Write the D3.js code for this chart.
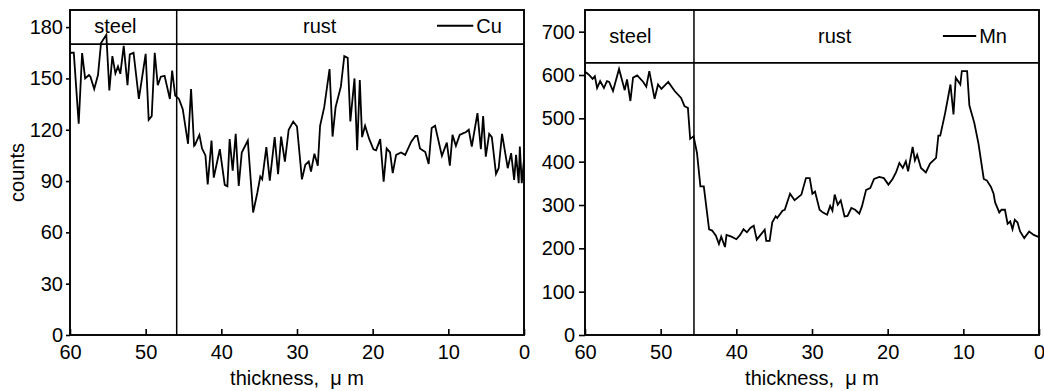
<!DOCTYPE html>
<html>
<head>
<meta charset="utf-8">
<script src="https://cdn.jsdelivr.net/npm/d3@7/dist/d3.min.js"></script>
<style>
  body { margin: 0; background: #fff; }
  svg text { font-family: "Liberation Sans", Arial, sans-serif; fill: #000; }
</style>
</head>
<body>
<svg id="chart" width="1044" height="391"></svg>
<script>
// Depth profiles across the steel / rust interface.
// Each entry is [thickness (µm), counts].
const cuProfile = [
  [60,165],[59.5,165],[58.85,123.5],[58.4,164.8],[58.0,150],[57.5,152],[57.3,151],[56.8,143.8],
  [56.3,152],[55.9,170.7],[55.2,175.5],[54.8,143],[54.4,163],[54.0,153],[53.66,157],[53.35,152.7],
  [52.9,169],[52.4,146],[52.1,164],[51.6,165],[50.9,138],[50.0,164.4],[49.6,125.8],[49.2,128],
  [48.8,165],[48.4,146],[48.0,151],[47.5,151.5],[46.8,138],[46.5,154.6],[46.1,140],[45.6,138],
  [45.1,132],[44.4,111.8],[44.0,143.8],[43.6,110.6],[43.5,111],[42.9,117],[42.55,109],[42.1,105],
  [41.8,88],[41.3,113.7],[41.0,92],[40.2,108.6],[39.55,87.8],[39.2,87],[38.9,114.5],[38.5,96],
  [38.1,117.6],[37.7,87.2],[37.3,106.7],[36.5,113.7],[35.8,71.6],[35.25,83],[34.85,92.6],[34.6,91],
  [34.05,109.8],[33.6,90.3],[32.95,115.7],[32.5,94],[32.1,116],[31.6,101.4],[31.1,120],[30.5,124.8],
  [30.0,121.9],[29.35,91],[28.9,99.5],[28.45,101.4],[28.15,95.6],[27.7,106],[27.25,99],[26.95,122.3],
  [26.4,133.2],[25.7,155.5],[25.3,116],[24.9,133.2],[24.2,145.3],[23.75,163],[23.3,162],[22.95,124.8],
  [22.4,150],[22.05,108],[21.7,149],[21.4,115.7],[21.0,122.3],[20.45,114.5],[19.9,108.6],[19.55,108],
  [19.0,114.5],[18.55,89.7],[18.15,109],[17.7,106.7],[17.35,94.6],[16.9,105.3],[16.25,106.7],[15.7,105.3],
  [14.9,113],[14.35,116.4],[14.1,116.4],[13.75,109],[13.05,107],[12.6,100],[12.2,121],[11.75,122.3],
  [10.85,104.7],[10.2,112.5],[9.8,99],[9.45,117],[9.0,110.6],[8.5,117],[8.0,118],[7.7,118.5],
  [7.3,120],[6.9,110.2],[6.15,129.7],[5.7,108.6],[5.4,128],[5.05,104.3],[4.6,117.6],[4.25,115.7],
  [3.7,94.2],[3.35,97.5],[2.9,117.6],[2.15,97.5],[1.7,106.3],[1.3,90.7],[1.05,105.3],[0.7,88.8],
  [0.55,110.2],[0.3,88.8],[0,102.4]
];

const mnProfile = [
  [60,607],[59.8,605],[59.4,599],[59.0,591],[58.7,597],[58.4,570],[58.0,586],[57.5,570],
  [57.1,586],[56.8,584],[56.3,563],[55.5,614],[54.75,565],[54.45,590],[54.0,540],[53.65,594],
  [53.1,599],[52.3,584],[51.9,573],[51.5,609],[50.8,545],[50.35,578],[49.9,568],[49.0,584],
  [48.15,563],[47.3,547],[46.85,528],[46.4,524],[46.1,452.6],[45.65,458.6],[45.2,420],[44.75,343],
  [44.3,343],[43.6,244],[43.2,241],[42.7,229],[42.3,210],[42.0,227],[41.5,203],[41.3,231],
  [40.65,227],[40.0,221],[39.5,231],[39.05,244],[38.6,237],[38.15,247],[37.7,252],[37.3,220],
  [36.8,231],[36.25,243],[36.05,217],[35.6,217],[35.25,260],[34.8,274],[34.6,270],[33.9,287],
  [33.6,289],[32.9,326],[32.3,311],[31.4,324],[30.8,362],[30.3,362],[29.95,326],[29.6,331],
  [29.0,289],[28.6,283],[28.0,277.5],[27.6,298],[27.3,287],[27.0,324],[26.6,300.6],[26.2,310.6],
  [25.7,273.6],[25.3,275],[24.8,293],[24.3,289],[23.75,280],[23.4,296.7],[22.85,335],[22.3,339],
  [21.8,360],[21.1,364.7],[20.5,362],[19.9,347],[19.35,360],[18.9,375],[18.45,397],[18.0,385.5],
  [17.6,400.8],[17.3,377.7],[16.7,434],[16.4,403],[16.1,416],[15.6,385.5],[14.95,375],[14.4,395.5],
  [13.6,408.6],[13.3,460],[13.05,460],[12.4,512.7],[11.7,578],[11.3,508.8],[11.0,593.7],[10.4,578],
  [10.2,609],[9.5,609],[9.2,529.6],[8.55,489.6],[8.0,441.7],[7.3,360],[6.9,356.8],[6.35,341.6],
  [6.0,326],[5.8,306],[5.25,282.8],[4.95,289],[4.5,289],[4.15,256.7],[3.8,262],[3.5,244],
  [3.2,266],[2.85,260],[2.5,239],[1.95,223.6],[1.3,239],[0.7,231],[0,226]
];

const thicknessTicks = [60, 50, 40, 30, 20, 10, 0];
const cuTicks = [0, 30, 60, 90, 120, 150, 180];
const mnTicks = [0, 100, 200, 300, 400, 500, 600, 700];
const regionNames = ["steel", "rust"];
const xTitle = "thickness,\u00a0\u00a0\u03bc\u00a0m";
const yTitle = "counts";

const svg = d3.select("#chart");

function drawPanel(p) {
  const x = d3.scaleLinear().domain([60, 0]).range([p.left, p.right]);
  const y = d3.scaleLinear().domain([0, p.yMax]).range([p.bottom, p.top]);
  const g = svg.append("g");

  // axes: y ticks point out, x ticks point in
  const ya = g.append("g").attr("transform", `translate(${p.left},0)`)
    .call(d3.axisLeft(y).tickValues(p.yTicks).tickSizeInner(p.yTick).tickSizeOuter(0).tickPadding(p.yPad));
  const xa = g.append("g").attr("transform", `translate(0,${p.bottom})`)
    .call(d3.axisBottom(x).tickValues(thicknessTicks).tickSizeInner(-6).tickSizeOuter(0).tickPadding(10));
  [ya, xa].forEach((a) => {
    a.select(".domain").remove();
    a.selectAll("line").attr("stroke", "#000").attr("stroke-width", 1.6);
    a.selectAll("text").attr("font-size", 20).attr("fill", "#000")
      .style("font-family", '"Liberation Sans", Arial, sans-serif');
  });

  // interface divider and header band
  g.append("line").attr("x1", x(p.divider)).attr("x2", x(p.divider))
    .attr("y1", p.top).attr("y2", p.bottom).attr("stroke", "#000").attr("stroke-width", 1.5);
  g.append("line").attr("x1", p.left).attr("x2", p.right)
    .attr("y1", y(p.band)).attr("y2", y(p.band)).attr("stroke", "#000").attr("stroke-width", 1.8);

  g.append("text").attr("x", x(54)).attr("y", y(p.labelAt)).attr("dy", "0.35em")
    .attr("text-anchor", "middle").attr("font-size", 20).text(regionNames[0]);
  g.append("text").attr("x", x(27)).attr("y", y(p.labelAt)).attr("dy", "0.35em")
    .attr("text-anchor", "middle").attr("font-size", 20).text(regionNames[1]);

  // legend
  g.append("line").attr("x1", x(p.legendFrom)).attr("x2", x(p.legendTo))
    .attr("y1", y(p.labelAt)).attr("y2", y(p.labelAt)).attr("stroke", "#000").attr("stroke-width", 1.8);
  g.append("text").attr("x", x(p.legendTo) + 3).attr("y", y(p.labelAt)).attr("dy", "0.35em")
    .attr("font-size", 20).text(p.name);

  g.append("path").datum(p.data).attr("fill", "none").attr("stroke", "#000")
    .attr("stroke-width", 1.8).attr("stroke-linejoin", "miter")
    .attr("d", d3.line().x((d) => x(d[0])).y((d) => y(d[1])));

  g.append("rect").attr("x", p.left).attr("y", p.top)
    .attr("width", p.right - p.left).attr("height", p.bottom - p.top)
    .attr("fill", "none").attr("stroke", "#000").attr("stroke-width", 1.9);

  g.append("text").attr("x", (p.left + p.right) / 2).attr("y", 385)
    .attr("text-anchor", "middle").attr("font-size", 20).text(xTitle);

  if (p.yTitle) {
    g.append("text").attr("transform", `translate(24,${(p.top + p.bottom) / 2}) rotate(-90)`)
      .attr("text-anchor", "middle").attr("font-size", 20).text(p.yTitle);
  }
}

drawPanel({
  left: 70, right: 524, top: 10, bottom: 335, yMax: 190, yTicks: cuTicks,
  yTick: 4, yPad: 3, divider: 45.9, band: 170, labelAt: 180.8,
  legendFrom: 11.5, legendTo: 6.7, name: "Cu", data: cuProfile, yTitle: yTitle
});
drawPanel({
  left: 585, right: 1039, top: 10, bottom: 335, yMax: 750, yTicks: mnTicks,
  yTick: 6, yPad: 4, divider: 45.6, band: 628, labelAt: 690,
  legendFrom: 12.7, legendTo: 8.3, name: "Mn", data: mnProfile
});
</script>
</body>
</html>
